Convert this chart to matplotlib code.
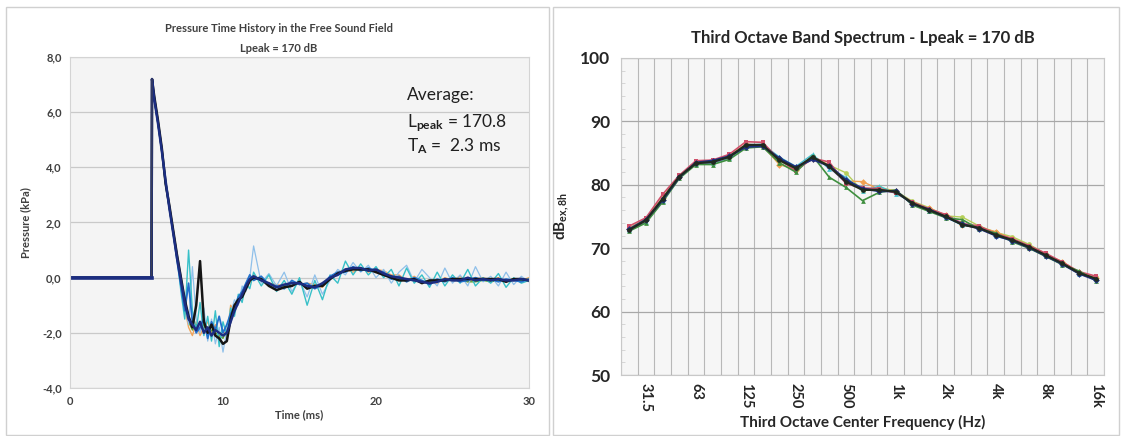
import numpy as np
import matplotlib
matplotlib.use("Agg")
import matplotlib.pyplot as plt
from matplotlib.patches import Rectangle
from matplotlib.ticker import MultipleLocator, FixedLocator

plt.rcParams['font.family'] = ['Lato', 'DejaVu Sans']
plt.rcParams['mathtext.fontset'] = 'custom'
plt.rcParams['mathtext.rm'] = 'Lato'
plt.rcParams['mathtext.bf'] = 'Lato:bold'
plt.rcParams['mathtext.it'] = 'Lato:italic'

# ---------------- Left panel data: pressure time history (kPa vs ms) ----------------
pre_t = [0.0, 5.33, 5.36]
pre_p = [0.0, 0.0, 7.2]

time_ms = [5.5, 5.75, 6.0, 6.25, 6.5, 6.75, 7.0, 7.25, 7.5, 7.75, 8.0, 8.25, 8.5, 8.75,
           9.0, 9.25, 9.5, 9.75, 10.0, 10.25, 10.5, 10.75, 11.0, 11.25, 11.5, 11.75, 12.0,
           12.5, 13.0, 13.5, 14.0, 14.5, 15.0, 15.5, 16.0, 16.5, 17.0, 17.5, 18.0, 18.5,
           19.0, 19.5, 20.0, 20.5, 21.0, 21.5, 22.0, 22.5, 23.0, 23.5, 24.0, 24.5, 25.0,
           25.5, 26.0, 26.5, 27.0, 27.5, 28.0, 28.5, 29.0, 29.5, 30.0]

p_black = [6.6, 5.7, 4.7, 3.4, 2.6, 1.7, 0.8, 0.0, -0.8, -1.4, -1.8, -1.0, 0.6, -1.6,
           -2.0, -1.7, -2.1, -2.2, -2.4, -2.3, -1.5, -1.0, -0.8, -0.7, -0.4, -0.1, 0.0,
           -0.05, -0.3, -0.45, -0.35, -0.3, -0.15, -0.4, -0.3, -0.3, -0.05, 0.15, 0.25, 0.3,
           0.3, 0.3, 0.2, 0.1, 0.0, -0.1, -0.1, -0.05, -0.2, -0.1, -0.1, -0.1, -0.05,
           -0.05, -0.05, -0.05, -0.05, -0.05, -0.05, -0.15, -0.05, -0.05, -0.1]
p_navy = [6.5, 5.6, 4.6, 3.5, 2.5, 1.6, 0.7, -0.1, -0.9, -1.5, -1.7, -1.9, -1.6, -2.0,
          -1.8, -2.1, -1.9, -2.0, -2.1, -2.0, -1.6, -1.2, -0.9, -0.6, -0.3, -0.05, 0.05,
          -0.1, -0.2, -0.35, -0.25, -0.2, -0.2, -0.3, -0.35, -0.2, 0.0, 0.1, 0.3, 0.35,
          0.35, 0.25, 0.3, 0.15, 0.05, 0.0, -0.05, -0.1, -0.15, -0.2, -0.15, -0.05, -0.1,
          -0.1, 0.0, -0.1, -0.05, -0.1, -0.05, -0.1, -0.1, -0.05, -0.1]
p_blue = [6.5, 5.6, 4.6, 3.4, 2.5, 1.6, 0.6, -0.3, -1.2, -0.2, -1.6, -2.0, -1.8, -1.5,
          -2.2, -1.6, -1.9, -1.4, -2.0, -1.7, -1.3, -1.1, -0.7, -0.5, -0.2, 0.1, -0.1,
          0.05, -0.25, -0.3, -0.4, -0.1, -0.25, -0.2, -0.4, -0.25, 0.05, 0.2, 0.2, 0.4,
          0.25, 0.35, 0.25, 0.2, -0.05, 0.05, -0.15, 0.0, -0.1, -0.25, -0.05, -0.15, 0.0,
          -0.15, -0.1, 0.0, -0.1, -0.05, -0.15, -0.05, -0.1, -0.15, -0.05]
p_cyan = [6.6, 5.7, 4.7, 3.5, 2.6, 1.7, 0.7, -0.5, -1.5, 1.0, -1.2, -1.9, -0.9, -2.1,
          -1.4, -2.3, -1.2, -2.5, -1.6, -2.1, -1.1, -1.4, -0.6, -0.9, -0.2, -0.4, 0.2,
          -0.3, 0.1, -0.5, -0.1, -0.6, 0.0, -1.0, -0.1, -0.8, 0.1, -0.2, 0.6, 0.1,
          0.5, 0.1, 0.4, 0.0, 0.3, -0.3, 0.35, -0.2, 0.1, -0.35, 0.2, -0.3, 0.1,
          -0.2, 0.3, -0.3, 0.0, -0.2, 0.15, -0.35, 0.0, -0.2, -0.1]
p_lightblue = [6.6, 5.7, 4.7, 3.5, 2.6, 1.7, 0.9, 0.1, -1.0, -1.7, 0.4, -1.5, -2.0, -1.1,
               -2.3, -1.5, -2.4, -1.8, -2.7, -1.9, -1.3, -0.8, -1.0, -0.3, -0.5, 0.0, 1.15,
               -0.2, 0.15, -0.3, 0.2, -0.5, -0.1, -0.7, 0.1, -0.6, -0.1, 0.3, 0.1, 0.55,
               0.2, 0.45, 0.0, 0.3, -0.2, 0.2, 0.45, -0.15, 0.3, 0.0, -0.3, 0.35, -0.2,
               0.1, -0.3, 0.4, -0.15, 0.05, -0.3, 0.2, -0.25, 0.05, -0.15]
p_orange = [6.6, 5.7, 4.7, 3.5, 2.6, 1.7, 0.8, -0.2, -1.1, -1.8, -2.1, -1.6, -2.1, -1.8,
            -1.6, -2.0, -1.7, -2.2, -1.9, -2.2, -1.0, -1.2, -0.9, -0.6, -0.3, -0.2, 0.1,
            -0.1, -0.2, -0.25, -0.3, -0.15, -0.25, -0.2, -0.25, -0.35, 0.0, 0.2, 0.3, 0.2,
            0.35, 0.2, 0.3, 0.25, 0.1, 0.1, -0.1, 0.05, -0.15, -0.1, -0.2, 0.0, -0.1,
            0.05, -0.15, -0.05, 0.0, -0.1, 0.0, -0.1, -0.05, -0.1, 0.0]
p_green = [6.5, 5.6, 4.6, 3.4, 2.5, 1.6, 0.7, -0.2, -1.1, -1.6, -1.9, -1.7, -1.9, -1.7,
           -2.1, -1.9, -2.0, -2.1, -2.2, -1.9, -1.4, -1.1, -0.8, -0.6, -0.3, -0.1, 0.0,
           -0.1, -0.25, -0.35, -0.3, -0.2, -0.2, -0.3, -0.3, -0.25, 0.0, 0.15, 0.25, 0.3,
           0.3, 0.25, 0.25, 0.15, 0.05, -0.05, -0.05, -0.1, -0.15, -0.15, -0.1, -0.1, -0.1,
           -0.1, -0.15, -0.15, -0.1, -0.15, -0.1, -0.1, -0.05, -0.1, -0.05]

# ---------------- Right panel data: third octave band spectrum ----------------
bands = ['25', '31.5', '40', '50', '63', '80', '100', '125', '160', '200', '250', '315',
         '400', '500', '630', '800', '1k', '1.25k', '1.6k', '2k', '2.5k', '3.15k', '4k',
         '5k', '6.3k', '8k', '10k', '12.5k', '16k']
shown_labels = ['31.5', '63', '125', '250', '500', '1k', '2k', '4k', '8k', '16k']

L_black = [72.9, 74.4, 77.8, 81.3, 83.4, 83.6, 84.4, 86.3, 86.3, 83.9, 82.6, 84.4, 82.9, 80.5,
           79.2, 79.2, 78.9, 77.1, 76.0, 75.0, 73.7, 73.2, 72.1, 71.3, 70.2, 68.9, 67.6, 66.1, 65.2]
L_navy = [73.0, 74.5, 77.6, 81.2, 83.5, 83.8, 84.5, 86.0, 86.1, 84.2, 82.8, 84.0, 83.0, 80.8,
          79.4, 79.0, 79.0, 77.0, 76.1, 74.9, 73.8, 73.1, 72.0, 71.2, 70.1, 68.8, 67.5, 66.0, 65.0]
L_red = [73.5, 74.8, 78.5, 81.5, 83.8, 83.9, 84.8, 86.8, 86.7, 84.0, 82.2, 84.2, 83.6, 80.2,
         79.5, 79.4, 78.7, 77.3, 76.2, 75.3, 73.9, 73.5, 72.3, 71.5, 70.4, 69.2, 67.8, 66.3, 65.6]
L_green = [72.7, 74.0, 77.3, 81.0, 83.2, 83.2, 84.0, 85.8, 86.0, 83.5, 82.0, 84.6, 81.2, 79.6,
           77.5, 78.8, 79.2, 76.8, 75.8, 74.8, 74.5, 73.0, 72.4, 71.0, 70.0, 68.7, 67.4, 66.4, 64.9]
L_cyan = [72.9, 74.2, 77.5, 81.4, 83.3, 83.4, 84.2, 86.2, 86.4, 84.4, 82.9, 84.8, 82.5, 81.2,
          79.0, 79.8, 78.6, 77.2, 75.9, 74.9, 73.6, 73.4, 71.9, 71.2, 70.3, 68.8, 67.5, 66.0, 65.1]
L_orange = [73.1, 74.6, 77.9, 81.3, 83.6, 83.7, 84.6, 86.4, 86.2, 83.2, 82.4, 84.1, 83.2, 80.6,
            80.5, 79.3, 79.1, 77.0, 76.3, 75.2, 73.7, 73.3, 72.6, 71.4, 70.0, 69.0, 67.9, 66.2, 65.3]
L_purple = [72.8, 74.3, 77.7, 81.2, 83.4, 83.5, 84.3, 86.3, 86.2, 84.0, 82.7, 84.3, 82.8, 80.3,
            79.3, 79.1, 78.8, 77.1, 76.0, 75.0, 73.7, 73.2, 72.1, 71.3, 70.2, 68.9, 67.6, 66.1, 65.2]
L_lime = [73.2, 74.6, 78.0, 81.4, 83.3, 83.5, 84.2, 86.1, 86.0, 83.8, 82.5, 84.5, 83.1, 81.9,
          79.0, 79.6, 79.0, 77.4, 76.4, 75.1, 74.9, 73.5, 72.5, 71.8, 70.6, 69.1, 67.5, 66.0, 65.4]

# ---------------- Figure ----------------
W, H = 1121, 436
fig = plt.figure(figsize=(W / 100, H / 100), dpi=100)
fig.patch.set_facecolor('white')

def fx(px):
    return px / W

def fy(py):
    return 1 - py / H

# panel frames
fig.patches.append(Rectangle((fx(6), fy(435)), fx(543), (428) / H, transform=fig.transFigure,
                             facecolor='none', edgecolor='#d0d0d0', lw=1.0, zorder=-5))
fig.patches.append(Rectangle((fx(553), fy(435)), fx(566), (428) / H, transform=fig.transFigure,
                             facecolor='none', edgecolor='#d0d0d0', lw=1.0, zorder=-5))

# ---- left axes ----
axL = fig.add_axes([fx(70), fy(388), fx(459), 331 / H])
axL.set_facecolor('#f4f4f4')
axL.set_xlim(0, 30)
axL.set_ylim(-4, 8)
axL.set_yticks([-4, -2, 0, 2, 4, 6, 8])
axL.set_yticklabels(['-4,0', '-2,0', '0,0', '2,0', '4,0', '6,0', '8,0'])
axL.set_xticks([0, 10, 20, 30])
axL.grid(axis='y', color='#c9c9c9', lw=0.9)
axL.set_axisbelow(True)
for s in axL.spines.values():
    s.set_color('#d4d4d4')
axL.tick_params(length=0, labelsize=8, colors='#404040', pad=6)
for lab in axL.get_xticklabels() + axL.get_yticklabels():
    lab.set_fontweight('bold')
axL.set_xlabel('Time (ms)', fontsize=8, fontweight='bold', color='#404040', labelpad=1)
axL.set_ylabel('Pressure (kPa)', fontsize=8, fontweight='bold', color='#404040', labelpad=8)

series_L = [
    (p_orange, '#f2a55a', 1.0),
    (p_green, '#5aa032', 1.0),
    (p_lightblue, '#8fc0ea', 0.9),
    (p_cyan, '#38c0c8', 1.0),
    (p_blue, '#2270cc', 1.3),
    (p_black, '#151515', 1.8),
    (p_navy, '#1c2d80', 1.8),
]
for vals, col, lw in series_L:
    axL.plot(pre_t + time_ms, pre_p + vals, color=col, lw=lw, solid_joinstyle='round')
# dark vertical rise on top
axL.plot(pre_t, pre_p, color='#3a3f58', lw=1.0)
axL.plot(pre_t[:2], pre_p[:2], color='#1c2d80', lw=2.6)

axL.text(0.735, 0.87, 'Average:', transform=axL.transAxes, fontsize=12.5, color='#202020')
axL.text(0.735, 0.80, r'L$_{\mathbf{peak}}$ = 170.8', transform=axL.transAxes, fontsize=12.5,
         color='#202020', va='center')
axL.text(0.735, 0.73, r'T$_{\mathbf{A}}$ =  2.3 ms', transform=axL.transAxes, fontsize=12.5,
         color='#202020', va='center')

fig.text(fx(279), fy(28), 'Pressure Time History in the Free Sound Field', ha='center',
         va='center', fontsize=8, fontweight='bold', color='#404040')
fig.text(fx(279), fy(48), 'Lpeak = 170 dB', ha='center', va='center', fontsize=8,
         fontweight='bold', color='#404040')

# ---- right axes ----
axR = fig.add_axes([fx(621), fy(375), fx(483), 317 / H])
axR.set_facecolor('#f6f6f6')
xpos = np.arange(len(bands))
axR.set_xlim(-0.5, len(bands) - 0.5)
axR.set_ylim(50, 100)
axR.set_yticks([50, 60, 70, 80, 90, 100])
axR.yaxis.set_minor_locator(MultipleLocator(2))
axR.set_xticks([bands.index(b) for b in shown_labels])
axR.set_xticklabels(shown_labels, rotation=-90, fontsize=10.5, fontweight='bold', color='#262626')
axR.xaxis.set_minor_locator(FixedLocator(np.arange(-0.5, len(bands), 1.0)))
axR.grid(axis='x', which='minor', color='#b8b8b8', lw=0.8)
axR.grid(axis='y', which='major', color='#a8a8a8', lw=0.9)
axR.set_axisbelow(True)
for s in axR.spines.values():
    s.set_color('#c8c8c8')
axR.tick_params(axis='x', which='both', length=0, pad=6)
axR.tick_params(axis='y', which='major', length=0, labelsize=12.5, colors='#262626', pad=8)
axR.tick_params(axis='y', which='minor', length=3, color='#d0d0d0', direction='in')
for lab in axR.get_yticklabels():
    lab.set_fontweight('bold')
axR.set_xlabel('Third Octave Center Frequency (Hz)', fontsize=11, fontweight='bold',
               color='#262626', labelpad=2)
axR.set_ylabel(r'dB$_{\mathbf{ex,8h}}$', fontsize=11, fontweight='bold', color='#262626',
               labelpad=6)
axR.set_title('Third Octave Band Spectrum - Lpeak = 170 dB', fontsize=12, fontweight='bold',
              color='#262626', pad=11)

series_R = [
    (L_lime, '#b5cf5a', 'o', 1.0),
    (L_orange, '#f0a050', 'D', 1.0),
    (L_cyan, '#48c0d0', '^', 1.0),
    (L_purple, '#9a78c0', 's', 1.0),
    (L_red, '#d0506a', 's', 1.2),
    (L_green, '#3f8f3f', '^', 1.2),
    (L_navy, '#1f2f80', 'D', 1.6),
    (L_black, '#202a20', 'o', 1.6),
]
for vals, col, mk, lw in series_R:
    axR.plot(xpos, vals, color=col, lw=lw, marker=mk, ms=3.4, mew=0)

fig.savefig('out.png', dpi=100)
